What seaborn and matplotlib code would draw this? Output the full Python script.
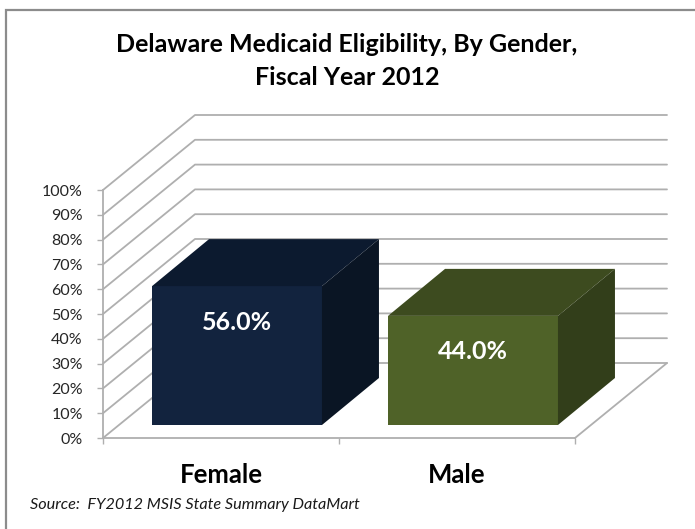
import matplotlib
matplotlib.use("Agg")
import matplotlib.pyplot as plt
import seaborn as sns
import pandas as pd
from matplotlib.patches import Polygon, Rectangle
from matplotlib.lines import Line2D

# ---- data ----
categories = ["Female", "Male"]
values = [56.0, 44.0]
value_labels = ["56.0%", "44.0%"]
y_ticks = [0, 10, 20, 30, 40, 50, 60, 70, 80, 90, 100]
y_tick_labels = ["0%", "10%", "20%", "30%", "40%", "50%", "60%", "70%", "80%", "90%", "100%"]
title_text = "Delaware Medicaid Eligibility, By Gender,\nFiscal Year 2012"
source_text = "Source:  FY2012 MSIS State Summary DataMart"

# ---- styles ----
front_colors = ["#12233E", "#4F6228"]
top_colors = ["#0C1A2F", "#3D4B1F"]
side_colors = ["#0A1524", "#323E1A"]
grid_color = "#AFAFAF"

W, H = 695, 529
sns.set_style("white")
plt.rcParams["font.family"] = ["Lato", "DejaVu Sans"]

fig = plt.figure(figsize=(W / 100, H / 100), dpi=100)
fig.patch.set_facecolor("white")

# front plane of the 3D box (pixel geometry)
X_LEFT, X_RIGHT, Y_ZERO, Y_TOP = 103, 575, 438, 190
ax = fig.add_axes([X_LEFT / W, (H - Y_ZERO) / H, (X_RIGHT - X_LEFT) / W, (Y_ZERO - Y_TOP) / H])
ax.set_xlim(-0.5, 1.5)
ax.set_ylim(0, 100)
ax.set_facecolor("none")

sx = 2.0 / (X_RIGHT - X_LEFT)      # data x per pixel
sy = 100.0 / (Y_ZERO - Y_TOP)      # data y per pixel

# depth offsets (pixels -> data)
DEPTH_X, DEPTH_Y = 92 * sx, 75 * sy          # full floor depth
FRONT_X, FRONT_Y = 16 * sx, 13 * sy          # bar front inset
BAR_DX, BAR_DY = 57 * sx, 47 * sy            # bar depth

x0, x1 = ax.get_xlim()
# back wall gridlines + left wall diagonals
for t in y_ticks:
    ax.add_line(Line2D([x0, x0 + DEPTH_X, x1 + DEPTH_X], [t, t + DEPTH_Y, t + DEPTH_Y],
                       color=grid_color, lw=1.3, clip_on=False, zorder=1))
# floor right edge
ax.add_line(Line2D([x1, x1 + DEPTH_X], [0, DEPTH_Y], color=grid_color, lw=1.3,
                   clip_on=False, zorder=1))

df = pd.DataFrame({"gender": categories, "share": values})
sns.barplot(data=df, x="gender", y="share", hue="gender", palette=front_colors,
            width=0.72, saturation=1, legend=False, ax=ax, zorder=3, linewidth=0)

for p, tc, sc, lab in zip(ax.patches, top_colors, side_colors, value_labels):
    bx = p.get_x() + FRONT_X
    p.set_x(bx)
    p.set_y(FRONT_Y)
    p.set_clip_on(False)
    w, h = p.get_width(), p.get_height()
    top = FRONT_Y + h
    ax.add_patch(Polygon([(bx, top), (bx + w, top), (bx + w + BAR_DX, top + BAR_DY),
                          (bx + BAR_DX, top + BAR_DY)], closed=True, facecolor=tc,
                         edgecolor="none", zorder=3, clip_on=False))
    ax.add_patch(Polygon([(bx + w, FRONT_Y), (bx + w + BAR_DX, FRONT_Y + BAR_DY),
                          (bx + w + BAR_DX, top + BAR_DY), (bx + w, top)], closed=True,
                         facecolor=sc, edgecolor="none", zorder=3, clip_on=False))
    ax.text(bx + w / 2, top - 14.5, lab, ha="center", va="center", color="white",
            fontsize=18, fontweight="bold", zorder=4)

# axes styling
for s in ["top", "right"]:
    ax.spines[s].set_visible(False)
for s in ["left", "bottom"]:
    ax.spines[s].set_color(grid_color)
    ax.spines[s].set_linewidth(1.3)
    ax.spines[s].set_zorder(2)

ax.set_yticks(y_ticks)
ax.set_yticklabels(y_tick_labels)
ax.tick_params(axis="y", direction="out", length=4.5, width=1, color=grid_color,
               pad=10, labelsize=11.5, labelcolor="#262626", left=True)
ax.set_xticks([0, 1])
ax.set_xticklabels(categories)
ax.set_xticks([-0.5, 0.5, 1.5], minor=True)
ax.tick_params(axis="x", which="major", length=0, pad=18, labelsize=18.5, labelcolor="black")
for lbl in ax.get_xticklabels():
    lbl.set_fontweight("bold")
ax.tick_params(axis="x", which="minor", direction="out", length=4, width=1,
               color=grid_color, bottom=True)
ax.set_xlabel("")
ax.set_ylabel("")

# title & source
fig.text(347 / W, 1 - 61 / H, title_text, ha="center", va="center", fontsize=18,
         fontweight="bold", color="black", linespacing=1.5)
fig.text(30 / W, 1 - 505 / H, source_text, ha="left", va="center", fontsize=11.7,
         style="italic", color="#1A1A1A")

# outer frame
fig.add_artist(Rectangle((6 / W, -0.05), 1.2, (1 - 10 / H) + 0.05, transform=fig.transFigure,
                         facecolor="none", edgecolor="#8C8C8C", lw=1.6))

fig.savefig("out.png", dpi=100)
